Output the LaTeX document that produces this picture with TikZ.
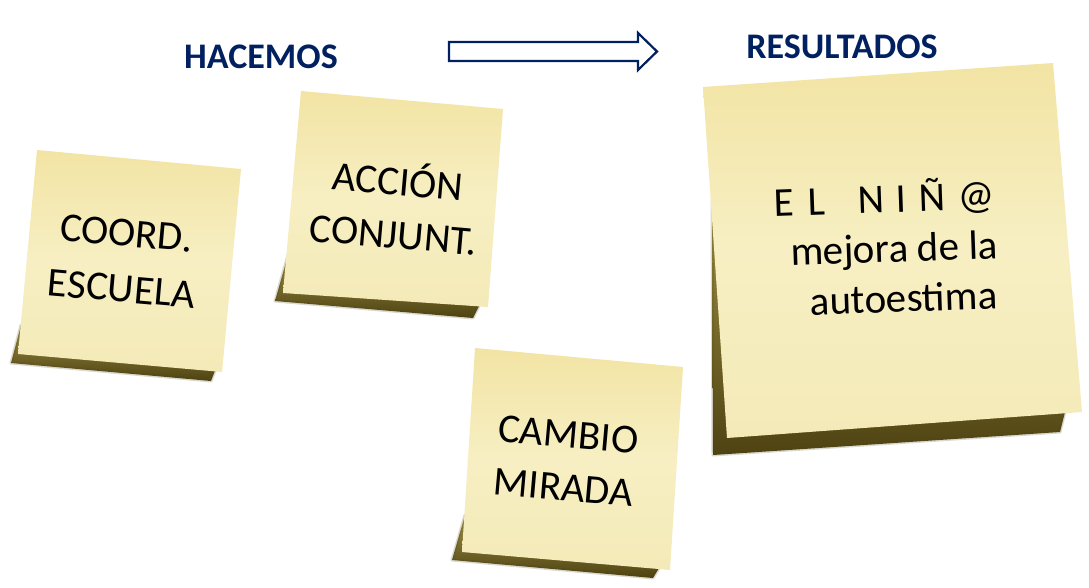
\documentclass[tikz,border=0pt]{standalone}
\usepackage{fontspec}
\setmainfont{Carlito}
\definecolor{navy}{HTML}{002060}
\definecolor{noteTop}{HTML}{F2E4A4}
\definecolor{noteMid}{HTML}{F7EFC3}
\definecolor{noteBot}{HTML}{F4EAB8}
\definecolor{shadowIn}{RGB}{160,145,70}
\definecolor{shadowOut}{RGB}{78,67,18}
\tikzset{
  notefill/.style={top color=noteTop, bottom color=noteBot, middle color=noteMid},
  noteshadow/.style={top color=shadowIn, bottom color=shadowOut, draw=shadowOut, draw opacity=0.2, line width=3pt, line join=round},
  notetext/.style={align=center, text=black, inner sep=0pt},
  heading/.style={font=\fontsize{36}{40}\selectfont\bfseries, text=navy, inner sep=0pt},
  bigarrow/.style={draw=navy, fill=white, line width=2.2pt, line join=miter},
}
\begin{document}
\begin{tikzpicture}[x=1pt,y=-1pt]
\useasboundingbox (0,0) rectangle (1089,588);
\fill[white] (0,0) rectangle (1089,588);

% headings and arrow
\node[heading] (hacemos) at (261,56.5) {HACEMOS};
\node[heading] (resultados) at (842,47) {RESULTADOS};
\draw[bigarrow] (449,42) -- (638,42) -- (638,33) -- (657,51.5) -- (638,70) -- (638,61) -- (449,61) -- cycle;

% note 1
\path[noteshadow] (21,325) -- (11,363) -- (211,381) -- (216,368) -- cycle;
\path[notefill] (37,150) -- (241,169) -- (222,372) -- (18,354) -- cycle;
\node[notetext, font=\fontsize{41}{56}\selectfont, rotate=-5] (coord) at (124,261) {COORD.\\ESCUELA};

% note 2
\path[noteshadow] (288,255) -- (275,301) -- (473,318) -- (479,306) -- cycle;
\path[notefill] (301,91) -- (503,109) -- (488,307) -- (283,293) -- cycle;
\node[notetext, font=\fontsize{41}{53}\selectfont, rotate=-5] (accion) at (396,205) {ACCIÓN\\CONJUNT.};

% note 3
\path[noteshadow] (465,515) -- (452,560) -- (653,578) -- (659,568) -- cycle;
\path[notefill] (475,348) -- (683,367) -- (670,570) -- (462,552) -- cycle;
\node[notetext, font=\fontsize{41}{53}\selectfont, rotate=-5] (cambio) at (566,461) {CAMBIO\\MIRADA};

% note 4
\path[noteshadow] (712,200) -- (713,455) -- (1060,432) -- (1066,408) -- cycle;
\path[notefill] (703,87) -- (1053,63) -- (1082,412) -- (727,438) -- cycle;
\node[notetext, font=\fontsize{41}{50}\selectfont, rotate=2] (nino) at (894,246) {E\hspace{0.32em}L\hspace{0.8em}N\hspace{0.3em}I\hspace{0.3em}Ñ\hspace{0.3em}@\hspace*{16pt}\\mejora de la\\\hspace*{16pt}autoestima};
\end{tikzpicture}
\end{document}
